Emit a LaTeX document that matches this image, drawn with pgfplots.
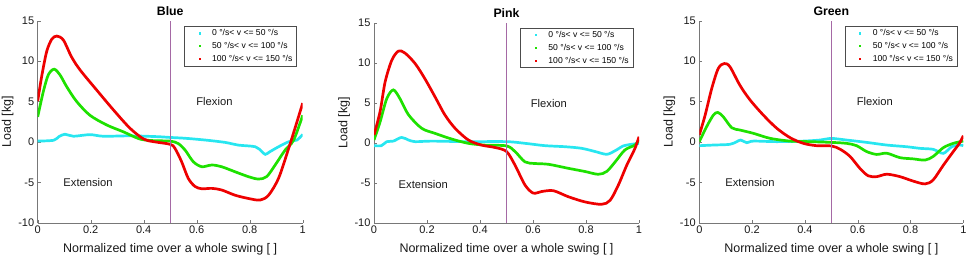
\documentclass[border=0pt]{standalone}
\usepackage{pgfplots}
\pgfplotsset{compat=1.18}
\usepackage{fontspec}
\setmainfont{Liberation Sans}
\definecolor{cy}{RGB}{40,230,240}
\definecolor{gr}{RGB}{30,225,0}
\definecolor{rd}{RGB}{238,0,0}
\definecolor{vl}{RGB}{165,105,165}
\definecolor{axc}{RGB}{120,120,120}
\tikzset{ann/.style={font=\fontsize{11.2}{13}\selectfont, text=black!90}}
\pgfplotsset{
  myax/.style={
    scale only axis, width=265pt, height=202pt, anchor=south west,
    xmin=0, xmax=1, ymin=-10, ymax=15,
    axis x line=bottom, axis y line=left,
    axis line style={axc, -}, tick style={axc},
    tick align=inside, major tick length=3pt,
    xtick={0,0.2,0.4,0.6,0.8,1}, ytick={-10,-5,0,5,10,15},
    /pgf/number format/assume math mode=true,
    tick label style={font=\fontsize{11}{12}\selectfont, text=black!90},
    label style={font=\fontsize{12.5}{14}\selectfont, text=black!90},
    xlabel={Normalized time over a whole swing [ ]},
    ylabel={Load [kg]},
    xlabel style={at={(axis description cs:0.5,0)}, anchor=center, yshift=-27pt},
    ylabel style={at={(axis description cs:-0.113,0.5)}, anchor=center, rotate=0},
    title style={font=\fontsize{12.3}{14}\selectfont\bfseries, at={(axis description cs:0.5,1)}, anchor=south, yshift=-4.5pt},
    legend style={font=\fontsize{8.6}{10}\selectfont, at={(0.977,0.972)}, anchor=north east,
      draw=black!70, fill=white, inner xsep=2pt, inner ysep=1pt, row sep=1pt, legend cell align=left},
    legend image code/.code={\path[draw=none, fill=none] (0pt,0pt) -- (24pt,0pt); \fill[#1, draw=none] (12.4pt,-1.1pt) rectangle (14.6pt,1.1pt);},
    every axis plot/.append style={line width=2.7pt, smooth, tension=0.5, no marks},
  },
}
\begin{document}
\begin{tikzpicture}
\useasboundingbox (0,0) rectangle (969pt,260pt);
% ---------------- Blue
\begin{axis}[myax, at={(37.7pt,37.3pt)}, title={Blue}]
\addplot[cy] coordinates {(0,0.1) (0.06,0.2) (0.08,0.65) (0.103,0.95) (0.135,0.7) (0.197,0.9) (0.248,0.7) (0.35,0.75) (0.45,0.65) (0.5,0.55) (0.556,0.45) (0.632,0.23) (0.707,-0.06) (0.758,-0.4) (0.821,-0.6) (0.846,-1.2) (0.859,-1.55) (0.877,-1.2) (0.909,-0.6) (0.947,0.02) (0.978,0.23) (1,0.93)};
\addlegendentry{0 °/s< v <= 50 °/s}
\addplot[gr] coordinates {(0,3.1) (0.021,6.2) (0.04,8.3) (0.062,9.0) (0.084,8.3) (0.11,6.8) (0.147,5.0) (0.197,3.3) (0.26,2.1) (0.323,1.25) (0.386,0.35) (0.44,0.15) (0.5,0.1) (0.53,-0.2) (0.556,-1.0) (0.587,-2.45) (0.619,-3.07) (0.657,-2.86) (0.694,-3.07) (0.745,-3.7) (0.795,-4.3) (0.833,-4.6) (0.864,-4.3) (0.896,-2.86) (0.934,-1.0) (0.966,0.23) (1,3.3)};
\addlegendentry{50 °/s< v <= 100 °/s}
\addplot[rd] coordinates {(0,5.05) (0.015,8.1) (0.034,11.2) (0.053,12.7) (0.072,13.1) (0.097,12.6) (0.128,10.5) (0.16,8.9) (0.223,6.4) (0.286,3.95) (0.348,1.7) (0.4,0.35) (0.437,0.03) (0.5,-0.3) (0.518,-0.8) (0.543,-2.45) (0.568,-4.5) (0.593,-5.5) (0.619,-5.8) (0.657,-5.75) (0.694,-5.95) (0.745,-6.6) (0.795,-7.0) (0.839,-7.2) (0.871,-6.6) (0.909,-4.5) (0.947,-0.8) (0.971,1.7) (1,4.8)};
\addlegendentry{100 °/s< v <= 150 °/s}
\addplot[vl, line width=0.7pt, sharp plot, forget plot] coordinates {(0.5,-10) (0.5,15)};
\node[ann] at (axis cs:0.667,5) {Flexion};
\node[ann] at (axis cs:0.19,-5) {Extension};
\end{axis}
% ---------------- Pink
\begin{axis}[myax, at={(374pt,37.3pt)}, height=200pt, title={Pink}]
\addplot[cy] coordinates {(0,-0.37) (0.028,-0.37) (0.048,0.13) (0.073,0.2) (0.104,0.66) (0.13,0.34) (0.155,0.13) (0.218,0.2) (0.343,0.13) (0.5,0.13) (0.57,-0.08) (0.645,-0.37) (0.72,-0.5) (0.783,-0.7) (0.834,-1.1) (0.878,-1.45) (0.91,-1.0) (0.941,-0.4) (0.972,-0.2) (1,-0.08)};
\addlegendentry{0 °/s< v <= 50 °/s}
\addplot[gr] coordinates {(0,0.34) (0.023,2.6) (0.048,5.5) (0.073,6.6) (0.098,5.5) (0.13,3.5) (0.18,1.8) (0.23,1.17) (0.293,0.46) (0.356,-0.08) (0.419,-0.3) (0.5,-0.4) (0.532,-1.1) (0.57,-2.4) (0.607,-2.6) (0.658,-2.7) (0.733,-3.2) (0.796,-3.6) (0.846,-3.95) (0.878,-3.6) (0.91,-2.4) (0.947,-0.9) (0.985,-0.3) (1,0.34)};
\addlegendentry{50 °/s< v <= 100 °/s}
\addplot[rd] coordinates {(0,0.96) (0.023,3.9) (0.042,7.6) (0.067,10.3) (0.092,11.45) (0.117,11.2) (0.155,9.9) (0.192,8.0) (0.23,5.75) (0.268,3.45) (0.306,1.8) (0.356,0.34) (0.406,-0.3) (0.457,-0.6) (0.5,-1.1) (0.532,-2.8) (0.57,-5.3) (0.601,-6.3) (0.633,-6.1) (0.677,-6.0) (0.733,-6.75) (0.796,-7.4) (0.859,-7.7) (0.891,-7.2) (0.922,-5.3) (0.954,-2.8) (0.985,-0.7) (1,0.75)};
\addlegendentry{100 °/s< v <= 150 °/s}
\addplot[vl, line width=0.7pt, sharp plot, forget plot] coordinates {(0.5,-10) (0.5,15)};
\node[ann] at (axis cs:0.66,4.9) {Flexion};
\node[ann] at (axis cs:0.186,-5.2) {Extension};
\end{axis}
% ---------------- Green
\begin{axis}[myax, at={(699.3pt,37.3pt)}, width=264pt, title={Green}]
\addplot[cy] coordinates {(0,-0.47) (0.053,-0.39) (0.116,-0.3) (0.142,0.03) (0.157,0.23) (0.18,-0.1) (0.205,0.1) (0.293,0.03) (0.394,0.1) (0.457,0.23) (0.5,0.43) (0.558,0.23) (0.634,-0.06) (0.71,-0.39) (0.786,-0.6) (0.836,-0.8) (0.886,-0.92) (0.924,-1.42) (0.956,-0.6) (0.987,-0.39) (1,-0.47)};
\addlegendentry{0 °/s< v <= 50 °/s}
\addplot[gr] coordinates {(0,0.03) (0.028,1.9) (0.053,3.3) (0.07,3.65) (0.091,3.1) (0.123,1.75) (0.154,1.47) (0.205,1.06) (0.268,0.44) (0.344,0.1) (0.419,0.03) (0.5,-0.06) (0.558,-0.18) (0.596,-0.47) (0.634,-1.2) (0.672,-1.55) (0.71,-1.4) (0.76,-1.95) (0.81,-2.1) (0.855,-2.25) (0.886,-1.8) (0.924,-0.72) (0.962,-0.18) (1,0.1)};
\addlegendentry{50 °/s< v <= 100 °/s}
\addplot[rd] coordinates {(0,0.85) (0.022,3.3) (0.047,6.6) (0.072,9.1) (0.095,9.7) (0.116,9.3) (0.154,7.0) (0.192,5.2) (0.243,3.3) (0.293,1.7) (0.344,0.52) (0.394,-0.18) (0.445,-0.47) (0.5,-0.5) (0.533,-0.9) (0.571,-1.8) (0.609,-3.3) (0.64,-4.2) (0.672,-4.3) (0.71,-4.0) (0.76,-4.3) (0.81,-4.85) (0.855,-5.2) (0.886,-4.7) (0.924,-2.9) (0.962,-1.2) (0.985,-0.18) (1,0.77)};
\addlegendentry{100 °/s< v <= 150 °/s}
\addplot[vl, line width=0.7pt, sharp plot, forget plot] coordinates {(0.5,-10) (0.5,15)};
\node[ann] at (axis cs:0.665,5) {Flexion};
\node[ann] at (axis cs:0.192,-5) {Extension};
\end{axis}
\end{tikzpicture}
\end{document}
